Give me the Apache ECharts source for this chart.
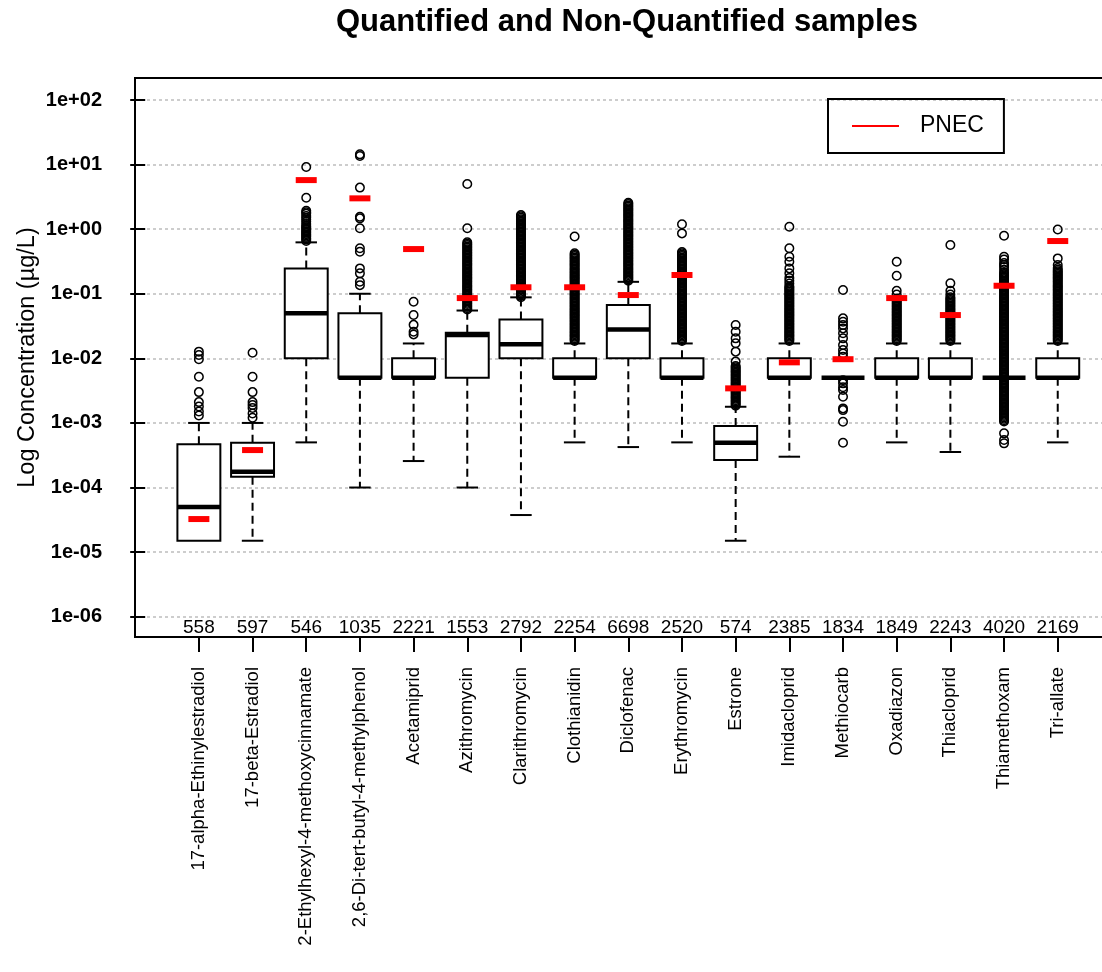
<!DOCTYPE html>
<html><head><meta charset="utf-8">
<script src="https://cdn.jsdelivr.net/npm/echarts@6/dist/echarts.min.js"></script>
<style>html,body{margin:0;padding:0;background:#fff}#chart{width:1102px;height:972px}</style>
</head><body><div id="chart"></div>
<script>
const categories = ['17-alpha-Ethinylestradiol','17-beta-Estradiol','2-Ethylhexyl-4-methoxycinnamate','2,6-Di-tert-butyl-4-methylphenol','Acetamiprid','Azithromycin','Clarithromycin','Clothianidin','Diclofenac','Erythromycin','Estrone','Imidacloprid','Methiocarb','Oxadiazon','Thiacloprid','Thiamethoxam','Tri-allate'];
const counts = [558, 597, 546, 1035, 2221, 1553, 2792, 2254, 6698, 2520, 574, 2385, 1834, 1849, 2243, 4020, 2169];
const boxMin    = [1.5e-5, 1.5e-5, 5e-4, 1e-4, 2.57e-4, 1e-4, 3.75e-5, 5e-4, 4.23e-4, 5e-4, 1.5e-5, 3e-4, 0.005, 5e-4, 3.55e-4, 0.005, 5e-4];
const boxQ1     = [1.5e-5, 1.47e-4, 0.01, 0.005, 0.005, 0.005, 0.01, 0.005, 0.01, 0.005, 2.67e-4, 0.005, 0.005, 0.005, 0.005, 0.005, 0.005];
const boxMedian = [5e-5, 1.76e-4, 0.05, 0.005, 0.005, 0.023, 0.0165, 0.005, 0.028, 0.005, 4.94e-4, 0.005, 0.005, 0.005, 0.005, 0.005, 0.005];
const boxQ3     = [4.67e-4, 4.94e-4, 0.247, 0.05, 0.01, 0.025, 0.04, 0.01, 0.067, 0.01, 8.95e-4, 0.01, 0.005, 0.01, 0.01, 0.005, 0.01];
const boxMax    = [1e-3, 1e-3, 0.625, 0.1, 0.017, 0.055, 0.088, 0.017, 0.153, 0.017, 1.78e-3, 0.017, 0.005, 0.017, 0.017, 0.005, 0.017];
const pnec = [3.25e-5, 3.8e-4, 5.75, 3.0, 0.492, 0.0857, 0.126, 0.126, 0.0955, 0.195, 3.43e-3, 0.00867, 0.0097, 0.0857, 0.0468, 0.133, 0.655];
const outliers = [
  [0.0127, 0.0113, 0.0097, 0.0052, 0.003, 0.0021, 0.0018, 0.0015, 0.0013],
  [0.0122, 0.0052, 0.003, 0.0021, 0.0019, 0.0017, 0.0014, 0.0012],
  [9.2, 3.06, 1.93, 1.83, 1.74, 1.6, 1.5, 1.4, 1.3, 1.2, 1.12, 1.07, 1.02, 0.969, 0.923, 0.879, 0.837, 0.797, 0.76, 0.723, 0.689, 0.656],
  [14.4, 13.6, 4.4, 1.56, 1.47, 1.03, 0.505, 0.447, 0.247, 0.207, 0.153, 0.136],
  [0.075, 0.047, 0.033, 0.0258, 0.0235],
  [5.0, 1.03, 0.0570, 0.0598, 0.0628, 0.066, 0.0693, 0.0727, 0.0764, 0.0802, 0.0842, 0.0884, 0.0928, 0.0975, 0.102, 0.107, 0.113, 0.119, 0.125, 0.131, 0.137, 0.144, 0.152, 0.159, 0.167, 0.176, 0.184, 0.194, 0.203, 0.214, 0.224, 0.235, 0.247, 0.26, 0.273, 0.286, 0.3, 0.315, 0.331, 0.348, 0.365, 0.383, 0.403, 0.423, 0.444, 0.466, 0.489, 0.514, 0.54, 0.567, 0.595, 0.625],
  [0.0884, 0.0928, 0.0975, 0.102, 0.107, 0.113, 0.119, 0.125, 0.131, 0.137, 0.144, 0.152, 0.159, 0.167, 0.176, 0.184, 0.194, 0.203, 0.214, 0.224, 0.235, 0.247, 0.26, 0.273, 0.286, 0.3, 0.315, 0.331, 0.348, 0.365, 0.383, 0.403, 0.423, 0.444, 0.466, 0.489, 0.514, 0.54, 0.567, 0.595, 0.625, 0.656, 0.689, 0.723, 0.76, 0.797, 0.837, 0.879, 0.923, 0.969, 1.02, 1.07, 1.12, 1.18, 1.24, 1.3, 1.36, 1.43, 1.5, 1.58, 1.66],
  [0.0186, 0.0195, 0.0205, 0.0215, 0.0226, 0.0237, 0.0249, 0.0261, 0.0274, 0.0288, 0.0302, 0.0317, 0.0333, 0.035, 0.0367, 0.0386, 0.0405, 0.0425, 0.0447, 0.0469, 0.0492, 0.0517, 0.0543, 0.057, 0.0598, 0.0628, 0.066, 0.0693, 0.0727, 0.0764, 0.0802, 0.0842, 0.0884, 0.0928, 0.0975, 0.102, 0.107, 0.113, 0.119, 0.125, 0.131, 0.137, 0.144, 0.152, 0.159, 0.167, 0.176, 0.184, 0.194, 0.203, 0.214, 0.224, 0.235, 0.247, 0.26, 0.273, 0.286, 0.3, 0.315, 0.331, 0.348, 0.365, 0.383, 0.403, 0.423, 0.77],
  [0.159, 0.167, 0.176, 0.184, 0.194, 0.203, 0.214, 0.224, 0.235, 0.247, 0.26, 0.273, 0.286, 0.3, 0.315, 0.331, 0.348, 0.365, 0.383, 0.403, 0.423, 0.444, 0.466, 0.489, 0.514, 0.54, 0.567, 0.595, 0.625, 0.656, 0.689, 0.723, 0.76, 0.797, 0.837, 0.879, 0.923, 0.969, 1.02, 1.07, 1.12, 1.18, 1.24, 1.3, 1.36, 1.43, 1.5, 1.58, 1.66, 1.74, 1.83, 1.92, 2.01, 2.11, 2.22, 2.33, 2.45, 2.57],
  [0.0186, 0.0195, 0.0205, 0.0215, 0.0226, 0.0237, 0.0249, 0.0261, 0.0274, 0.0288, 0.0302, 0.0317, 0.0333, 0.035, 0.0367, 0.0386, 0.0405, 0.0425, 0.0447, 0.0469, 0.0492, 0.0517, 0.0543, 0.057, 0.0598, 0.0628, 0.066, 0.0693, 0.0727, 0.0764, 0.0802, 0.0842, 0.0884, 0.0928, 0.0975, 0.102, 0.107, 0.113, 0.119, 0.125, 0.131, 0.137, 0.144, 0.152, 0.159, 0.167, 0.176, 0.184, 0.194, 0.203, 0.214, 0.224, 0.235, 0.247, 0.26, 0.273, 0.286, 0.3, 0.315, 0.331, 0.348, 0.365, 0.383, 0.403, 0.423, 0.444, 0.86, 1.19],
  [0.00185, 0.00194, 0.00204, 0.00214, 0.00225, 0.00236, 0.00248, 0.0026, 0.00273, 0.00287, 0.00301, 0.00316, 0.00332, 0.00349, 0.00366, 0.00385, 0.00404, 0.00424, 0.00445, 0.00467, 0.00491, 0.00515, 0.00541, 0.00568, 0.00596, 0.00626, 0.00657, 0.0069, 0.00725, 0.0076, 0.0089, 0.0127, 0.0171, 0.0204, 0.0258, 0.0328],
  [0.0186, 0.0195, 0.0205, 0.0215, 0.0226, 0.0237, 0.0249, 0.0261, 0.0274, 0.0288, 0.0302, 0.0317, 0.0333, 0.035, 0.0367, 0.0386, 0.0405, 0.0425, 0.0447, 0.0469, 0.0492, 0.0517, 0.0543, 0.057, 0.0598, 0.0628, 0.066, 0.0693, 0.0727, 0.0764, 0.0802, 0.0842, 0.0884, 0.0928, 0.0975, 0.102, 0.107, 0.113, 0.119, 0.125, 0.131, 0.144, 0.159, 0.176, 0.207, 0.247, 0.313, 0.374, 0.505, 1.09],
  [0.114, 0.0416, 0.0369, 0.0327, 0.0291, 0.0244, 0.0204, 0.0161, 0.0135, 0.0119, 0.0106, 0.0046, 0.0041, 0.00356, 0.00323, 0.00255, 0.00168, 0.00158, 0.00104, 0.000494],
  [0.0186, 0.0195, 0.0205, 0.0215, 0.0226, 0.0237, 0.0249, 0.0261, 0.0274, 0.0288, 0.0302, 0.0317, 0.0333, 0.035, 0.0367, 0.0386, 0.0405, 0.0425, 0.0447, 0.0469, 0.0492, 0.0517, 0.0543, 0.057, 0.0598, 0.0628, 0.066, 0.0693, 0.0727, 0.0764, 0.0802, 0.0842, 0.0975, 0.111, 0.19, 0.313],
  [0.0186, 0.0195, 0.0205, 0.0215, 0.0226, 0.0237, 0.0249, 0.0261, 0.0274, 0.0288, 0.0302, 0.0317, 0.0333, 0.035, 0.0367, 0.0386, 0.0405, 0.0425, 0.0447, 0.0469, 0.0492, 0.0517, 0.0543, 0.057, 0.0598, 0.0628, 0.066, 0.0693, 0.0727, 0.0764, 0.0802, 0.0842, 0.0884, 0.0975, 0.111, 0.145, 0.567],
  [0.000483, 0.000543, 0.00069, 0.00105, 0.0011, 0.00116, 0.00122, 0.00128, 0.00134, 0.00141, 0.00148, 0.00155, 0.00163, 0.00171, 0.0018, 0.00189, 0.00198, 0.00208, 0.00218, 0.00229, 0.0024, 0.00252, 0.00265, 0.00278, 0.00292, 0.00307, 0.00322, 0.00338, 0.00355, 0.00373, 0.00391, 0.00411, 0.00431, 0.00453, 0.00475, 0.00499, 0.00524, 0.0055, 0.00578, 0.00607, 0.00637, 0.00669, 0.00702, 0.00737, 0.00774, 0.00813, 0.00854, 0.00896, 0.00941, 0.00988, 0.0104, 0.0109, 0.0114, 0.012, 0.0126, 0.0132, 0.0139, 0.0146, 0.0153, 0.0161, 0.0169, 0.0177, 0.0186, 0.0195, 0.0205, 0.0215, 0.0226, 0.0237, 0.0249, 0.0261, 0.0274, 0.0288, 0.0302, 0.0317, 0.0333, 0.035, 0.0367, 0.0386, 0.0405, 0.0425, 0.0447, 0.0469, 0.0492, 0.0517, 0.0543, 0.057, 0.0598, 0.0628, 0.066, 0.0693, 0.0727, 0.0764, 0.0802, 0.0842, 0.0884, 0.0928, 0.0975, 0.102, 0.107, 0.113, 0.119, 0.125, 0.131, 0.137, 0.144, 0.152, 0.159, 0.167, 0.176, 0.184, 0.194, 0.203, 0.214, 0.235, 0.26, 0.278, 0.3, 0.34, 0.374, 0.79],
  [0.0186, 0.0195, 0.0205, 0.0215, 0.0226, 0.0237, 0.0249, 0.0261, 0.0274, 0.0288, 0.0302, 0.0317, 0.0333, 0.035, 0.0367, 0.0386, 0.0405, 0.0425, 0.0447, 0.0469, 0.0492, 0.0517, 0.0543, 0.057, 0.0598, 0.0628, 0.066, 0.0693, 0.0727, 0.0764, 0.0802, 0.0842, 0.0884, 0.0928, 0.0975, 0.102, 0.107, 0.113, 0.119, 0.125, 0.131, 0.137, 0.144, 0.152, 0.159, 0.167, 0.176, 0.184, 0.194, 0.203, 0.214, 0.224, 0.235, 0.25, 0.278, 0.353, 0.99]
];
const yTickValues = [1e-6, 1e-5, 1e-4, 1e-3, 1e-2, 1e-1, 1, 10, 100];
const positions = categories.map((c, i) => i + 1);

const FONT = '"Liberation Sans", Arial, sans-serif';
const boxData = positions.map((p, i) => [p, boxMin[i], boxQ1[i], boxMedian[i], boxQ3[i], boxMax[i]]);
const outlierData = [];
outliers.forEach((arr, i) => arr.forEach(v => outlierData.push([positions[i], v])));
const pnecData = positions.map((p, i) => [p, pnec[i]]);

function fmtExp(v) {
  const e = Math.log10(v);
  const r = Math.round(e);
  if (Math.abs(e - r) > 1e-6) return '';
  const s = r < 0 ? '-' : '+';
  const a = Math.abs(r);
  return '1e' + s + (a < 10 ? '0' : '') + a;
}

function renderBox(params, api) {
  const x = api.value(0);
  const pts = [1, 2, 3, 4, 5].map(k => api.coord([x, api.value(k)]));
  const cx = pts[0][0];
  const yMin = pts[0][1], yQ1 = pts[1][1], yMed = pts[2][1], yQ3 = pts[3][1], yMax = pts[4][1];
  const hw = api.size([0.8, 0])[0] / 2;
  const cw = hw / 2;
  const solid = { stroke: '#000', lineWidth: 2, fill: null };
  const dashed = { stroke: '#000', lineWidth: 2, fill: null, lineDash: [8, 5] };
  const ch = [];
  if (yQ3 - yMax > 0.5) ch.push({ type: 'line', shape: { x1: cx, y1: yQ3, x2: cx, y2: yMax }, style: dashed });
  if (yMin - yQ1 > 0.5) ch.push({ type: 'line', shape: { x1: cx, y1: yQ1, x2: cx, y2: yMin }, style: dashed });
  if (Math.abs(yQ3 - yMax) > 0.5) ch.push({ type: 'line', shape: { x1: cx - cw, y1: yMax, x2: cx + cw, y2: yMax }, style: solid });
  if (Math.abs(yMin - yQ1) > 0.5) ch.push({ type: 'line', shape: { x1: cx - cw, y1: yMin, x2: cx + cw, y2: yMin }, style: solid });
  if (yQ1 - yQ3 > 0.5) ch.push({ type: 'rect', shape: { x: cx - hw, y: yQ3, width: 2 * hw, height: yQ1 - yQ3 }, style: { fill: '#fff', stroke: '#000', lineWidth: 2 } });
  ch.push({ type: 'line', shape: { x1: cx - hw, y1: yMed, x2: cx + hw, y2: yMed }, style: { stroke: '#000', lineWidth: 4.5 } });
  return { type: 'group', children: ch };
}

const chart = echarts.init(document.getElementById('chart'), null, { renderer: 'canvas' });
chart.setOption({
  animation: false,
  backgroundColor: '#fff',
  textStyle: { fontFamily: FONT },
  title: {
    text: 'Quantified and Non-Quantified samples',
    left: 627, top: 7, padding: 0, textAlign: 'center',
    textStyle: { fontFamily: FONT, fontSize: 31, fontWeight: 'bold', color: '#000' }
  },
  legend: {
    left: 828, top: 99, orient: 'horizontal',
    data: [{ name: 'PNEC', icon: 'rect' }],
    itemWidth: 47, itemHeight: 2,
    padding: [15, 20, 15, 24],
    borderColor: '#000', borderWidth: 2, selectedMode: false,
    textStyle: { fontFamily: FONT, fontSize: 23, color: '#000', padding: [0, 0, 0, 16], lineHeight: 24 }
  },
  grid: {
    left: 135, top: 78, width: 985, height: 559,
    show: true, borderColor: '#000', borderWidth: 2, backgroundColor: 'transparent',
    containLabel: false, outerBoundsMode: 'none'
  },
  xAxis: [{
    type: 'value', min: -0.19, max: 18.16, position: 'bottom',
    axisLine: { show: false }, splitLine: { show: false },
    axisTick: { show: true, length: 15, lineStyle: { color: '#000', width: 2 }, customValues: positions },
    axisLabel: {
      customValues: positions, rotate: 90, margin: 30,
      fontFamily: FONT, fontSize: 18.5, color: '#000',
      formatter: v => categories[Math.round(v) - 1] || ''
    }
  }, {
    type: 'value', min: -0.19, max: 18.16, position: 'bottom',
    axisLine: { show: false }, splitLine: { show: false }, axisTick: { show: false },
    axisLabel: {
      customValues: positions, inside: true, margin: 0,
      fontFamily: FONT, fontSize: 19, color: '#000',
      formatter: v => String(counts[Math.round(v) - 1] ?? '')
    }
  }],
  yAxis: {
    type: 'log', min: 4.85e-7, max: 219,
    name: 'Log Concentration (µg/L)', nameLocation: 'middle', nameGap: 95, nameMoveOverlap: false,
    nameTextStyle: { fontFamily: FONT, fontSize: 23.5, color: '#000' },
    axisLine: { show: false },
    axisTick: { show: true, length: 15, lineStyle: { color: '#000', width: 2 }, customValues: yTickValues },
    axisLabel: { customValues: yTickValues, margin: 33, fontFamily: FONT, fontSize: 20, fontWeight: 'bold', color: '#000', formatter: fmtExp },
    splitLine: { show: true, lineStyle: { color: '#bdbdbd', width: 1.5, type: [3, 3] } }
  },
  series: [{
    name: 'box', type: 'custom', renderItem: renderBox, data: boxData,
    encode: { x: 0, y: [1, 2, 3, 4, 5] }, z: 2, silent: true
  }, {
    name: 'outliers', type: 'scatter', data: outlierData, symbol: 'circle', symbolSize: 8.5,
    itemStyle: { color: 'rgba(0,0,0,0)', borderColor: '#000', borderWidth: 1.5, opacity: 1 },
    z: 3, silent: true, large: false
  }, {
    name: 'PNEC', type: 'scatter', data: pnecData, symbol: 'rect', symbolSize: [21, 6],
    itemStyle: { color: '#ff0000', opacity: 1 }, z: 4, silent: true
  }]
});
</script></body></html>
